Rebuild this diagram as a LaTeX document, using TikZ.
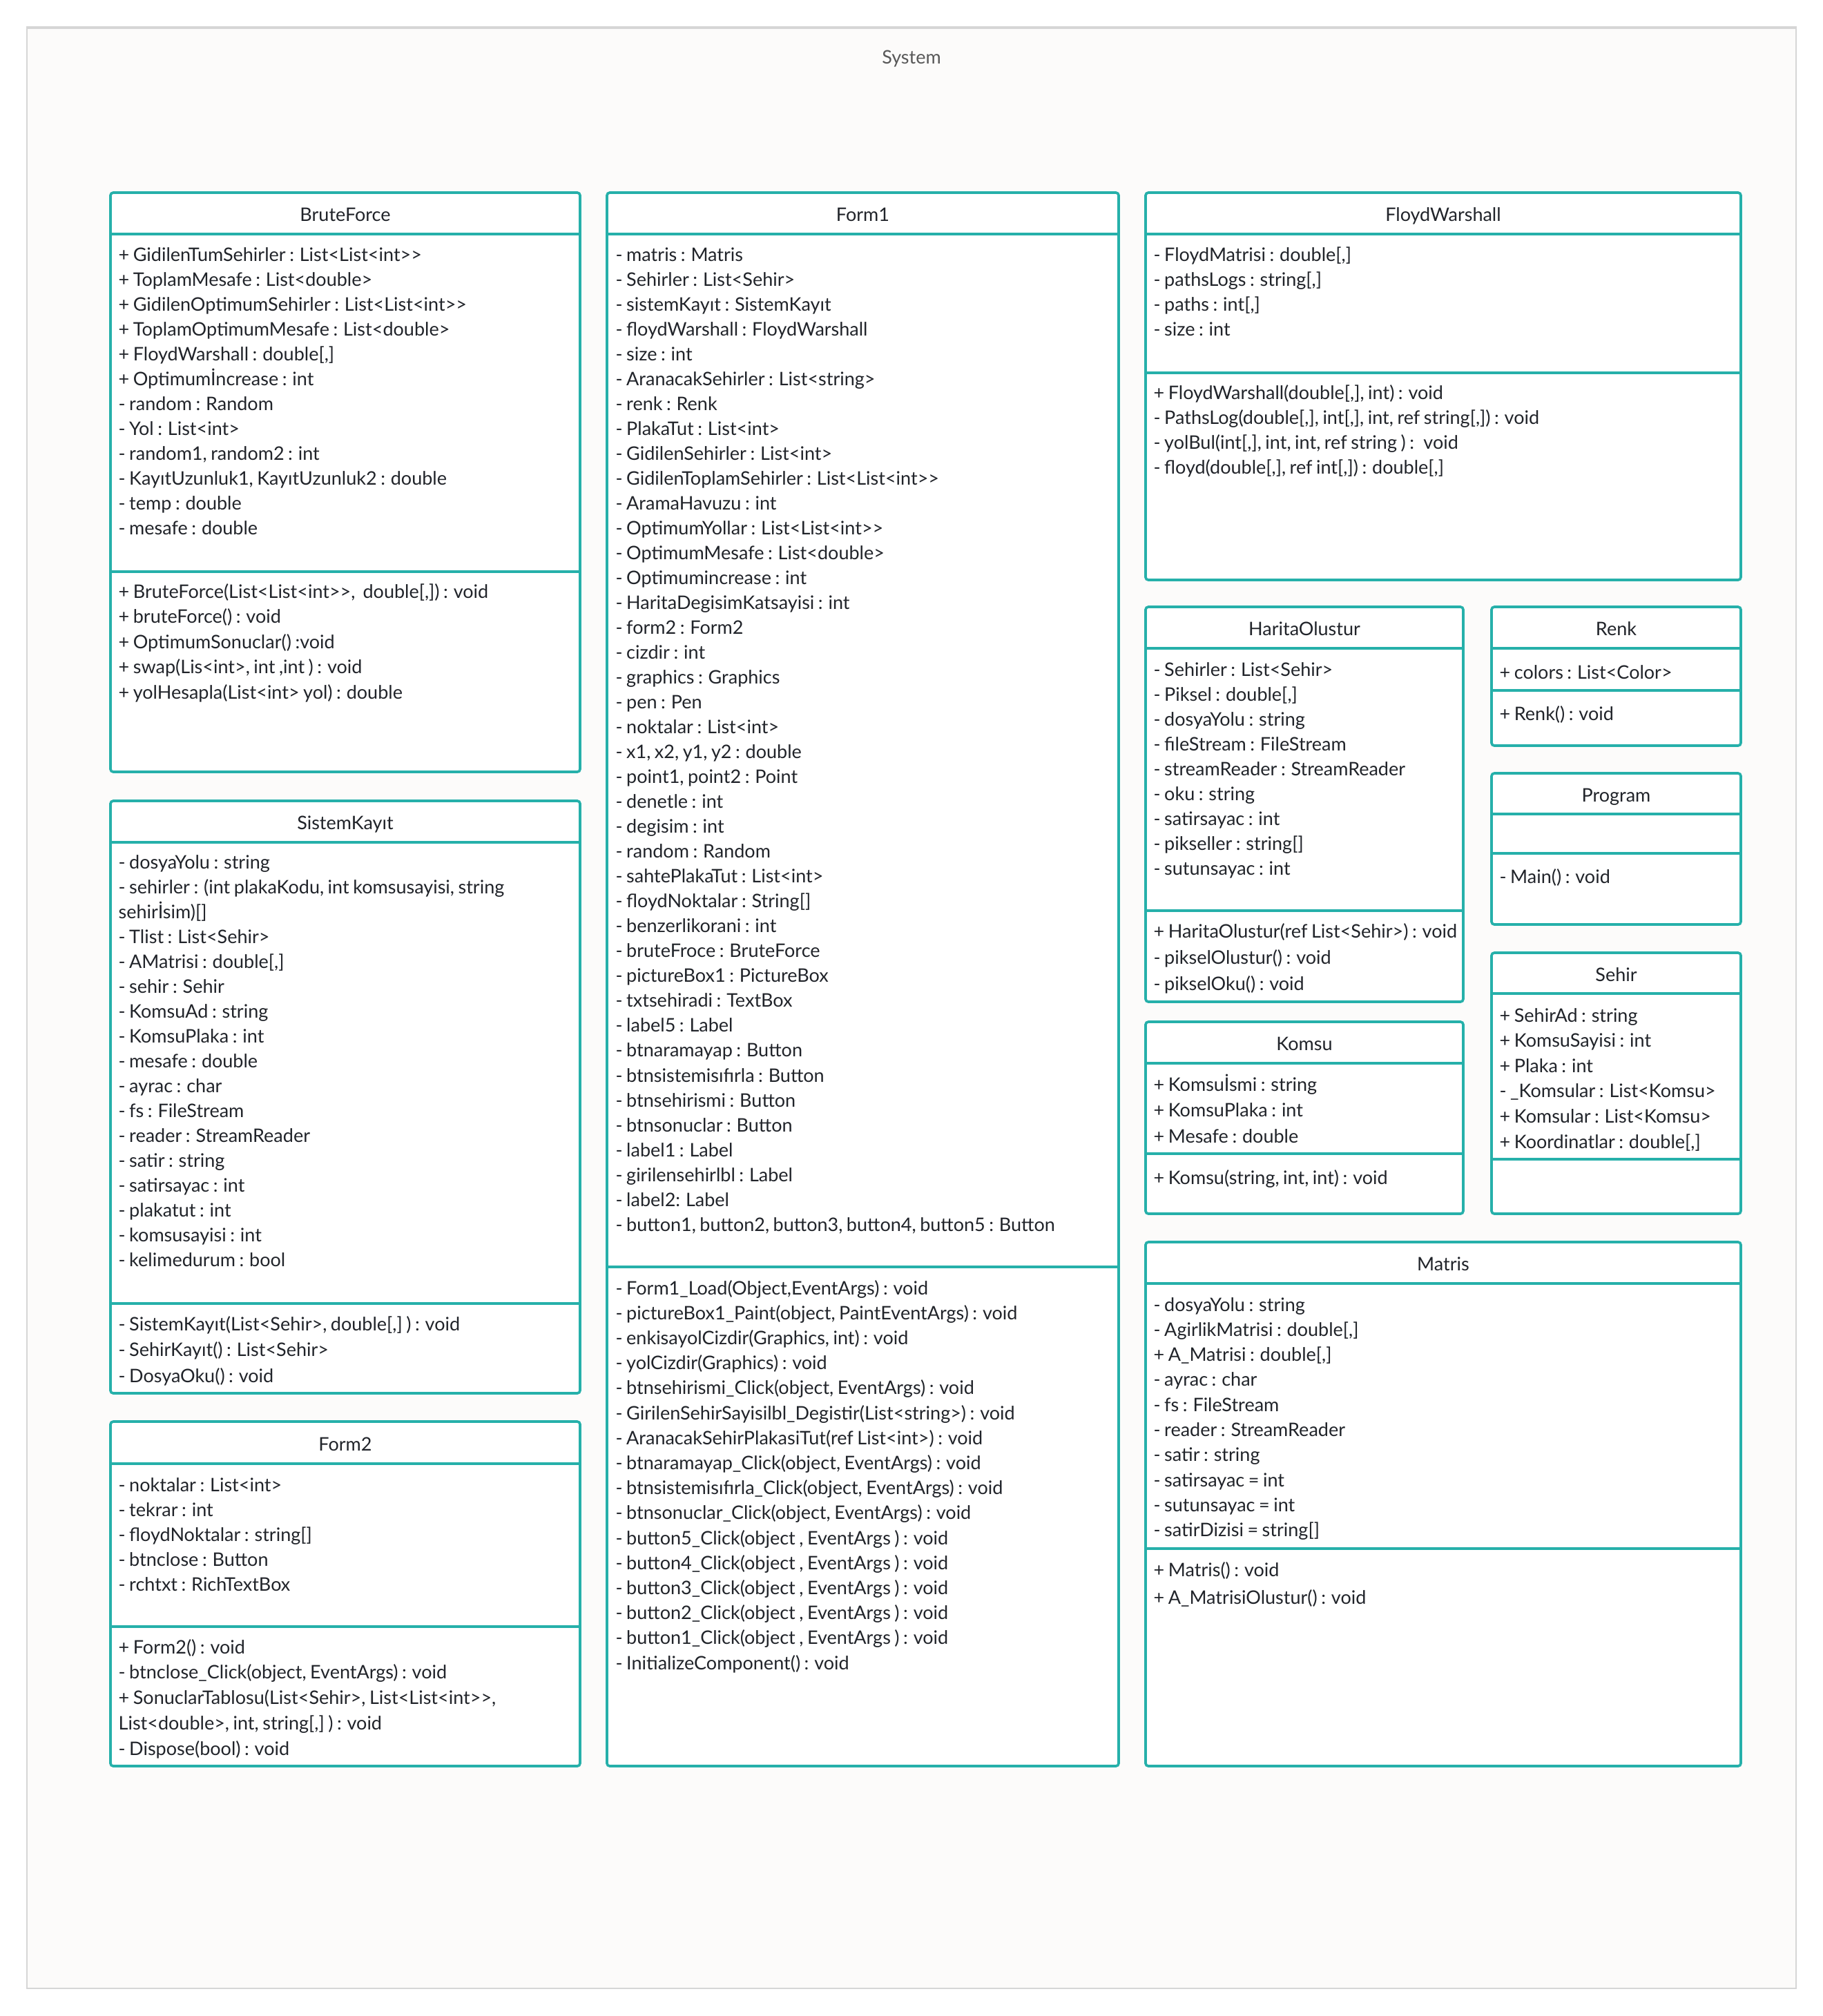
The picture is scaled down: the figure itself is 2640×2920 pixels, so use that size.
\documentclass[tikz,border=0pt]{standalone}
\usepackage{fontspec}
\setmainfont{Lato}[WordSpace=0.8]
\definecolor{umlteal}{RGB}{38,176,170}
\definecolor{framegray}{RGB}{214,214,214}
\definecolor{paper}{RGB}{252,251,250}
\definecolor{ink}{RGB}{33,36,42}

\begin{document}
\begin{tikzpicture}[
  x=0.3pt, y=-0.3pt,
  frame/.style={draw=framegray, line width=0.6pt, fill=paper},
  classbox/.style={draw=umlteal, line width=1.1pt, fill=white,
                   rounded corners=1.2pt},
  divider/.style={draw=umlteal, line width=1.1pt},
  classname/.style={font=\fontsize{8.1}{10}\selectfont, text=ink,
                    anchor=base, inner sep=0pt},
  row/.style={font=\fontsize{8.1}{10}\selectfont, text=ink,
              anchor=base west, inner sep=0pt}
]
  \fill[white] (0,0) rectangle (2640,2920);
  \useasboundingbox (0,0) rectangle (2640,2920);
  \draw[frame] (39,39) rectangle (2601,2880);
  \draw[framegray, line width=1.2pt] (39,40) -- (2601,40);
  \node[classname, text=black!65] (system) at (1320,92) {System};

  % BruteForce
  \draw[classbox] (160,279) rectangle (840,1118);
  \draw[divider] (160,339) -- (840,339) (160,828) -- (840,828);
  \node[classname] (bf) at (500,320) {BruteForce};
  \foreach \member [count=\i] in {{+ GidilenTumSehirler : List<List<int>{}>},
      {+ ToplamMesafe : List<double>}, {+ GidilenOptimumSehirler : List<List<int>{}>},
      {+ ToplamOptimumMesafe : List<double>}, {+ FloydWarshall : double[,]},
      {+ Optimumİncrease : int}, {- random : Random}, {- Yol : List<int>},
      {- random1, random2 : int}, {- KayıtUzunluk1, KayıtUzunluk2 : double},
      {- temp : double}, {- mesafe : double}}
    \node[row] (bf-a\i) at (171,{378+36*(\i-1)}) {\member};
  \foreach \member [count=\i] in {{+ BruteForce(List<List<int>{}>,~ double[,]) : void},
      {+ bruteForce() : void}, {+ OptimumSonuclar() :void},
      {+ swap(Lis<int>, int ,int ) : void}, {+ yolHesapla(List<int> yol) : double}}
    \node[row] (bf-m\i) at (171,{866+36.5*(\i-1)}) {\member};

  % SistemKayit
  \draw[classbox] (160,1160) rectangle (840,2018);
  \draw[divider] (160,1220) -- (840,1220) (160,1888) -- (840,1888);
  \node[classname] (sk) at (500,1201) {SistemKayıt};
  \foreach \member [count=\i] in {{- dosyaYolu : string},
      {- sehirler : (int plakaKodu, int komsusayisi, string}, {sehirİsim)[]},
      {- Tlist : List<Sehir>}, {- AMatrisi : double[,]}, {- sehir : Sehir},
      {- KomsuAd : string}, {- KomsuPlaka : int}, {- mesafe : double},
      {- ayrac : char}, {- fs : FileStream}, {- reader : StreamReader},
      {- satir : string}, {- satirsayac : int}, {- plakatut : int},
      {- komsusayisi : int}, {- kelimedurum : bool}}
    \node[row] (sk-a\i) at (171,{1258+36*(\i-1)}) {\member};
  \foreach \member [count=\i] in {{- SistemKayıt(List<Sehir>, double[,] ) : void},
      {- SehirKayıt() : List<Sehir>}, {- DosyaOku() : void}}
    \node[row] (sk-m\i) at (171,{1927+37.5*(\i-1)}) {\member};

  % Form2
  \draw[classbox] (160,2059) rectangle (840,2558);
  \draw[divider] (160,2120) -- (840,2120) (160,2356) -- (840,2356);
  \node[classname] (ftwo) at (500,2101) {Form2};
  \foreach \member [count=\i] in {{- noktalar : List<int>}, {- tekrar : int},
      {- floydNoktalar : string[]}, {- btnclose : Button}, {- rchtxt : RichTextBox}}
    \node[row] (ftwo-a\i) at (171,{2160+36*(\i-1)}) {\member};
  \foreach \member [count=\i] in {{+ Form2() : void},
      {- btnclose\_Click(object, EventArgs) : void},
      {+ SonuclarTablosu(List<Sehir>, List<List<int>{}>,},
      {List<double>, int, string[,] ) : void}, {- Dispose(bool) : void}}
    \node[row] (ftwo-m\i) at (171,{2395+36.8*(\i-1)}) {\member};

  % Form1
  \draw[classbox] (879,279) rectangle (1620,2558);
  \draw[divider] (879,339) -- (1620,339) (879,1835) -- (1620,1835);
  \node[classname] (fone) at (1249.5,320) {Form1};
  \foreach \member [count=\i] in {{- matris : Matris}, {- Sehirler : List<Sehir>},
      {- sistemKayıt : SistemKayıt}, {- floydWarshall : FloydWarshall},
      {- size : int}, {- AranacakSehirler : List<string>}, {- renk : Renk},
      {- PlakaTut : List<int>}, {- GidilenSehirler : List<int>},
      {- GidilenToplamSehirler : List<List<int>{}>}, {- AramaHavuzu : int},
      {- OptimumYollar : List<List<int>{}>}, {- OptimumMesafe : List<double>},
      {- Optimumincrease : int}, {- HaritaDegisimKatsayisi : int},
      {- form2 : Form2}, {- cizdir : int}, {- graphics : Graphics},
      {- pen : Pen}, {- noktalar : List<int>}, {- x1, x2, y1, y2 : double},
      {- point1, point2 : Point}, {- denetle : int}, {- degisim : int},
      {- random : Random}, {- sahtePlakaTut : List<int>},
      {- floydNoktalar : String[]}, {- benzerlikorani : int},
      {- bruteFroce : BruteForce}, {- pictureBox1 : PictureBox},
      {- txtsehiradi : TextBox}, {- label5 : Label}, {- btnaramayap : Button},
      {- btnsistemisıfırla : Button}, {- btnsehirismi : Button},
      {- btnsonuclar : Button}, {- label1 : Label}, {- girilensehirlbl : Label},
      {- label2: Label}, {- button1, button2, button3, button4, button5 : Button}}
    \node[row] (fone-a\i) at (891,{378+36.03*(\i-1)}) {\member};
  \foreach \member [count=\i] in {{- Form1\_Load(Object,EventArgs) : void},
      {- pictureBox1\_Paint(object, PaintEventArgs) : void},
      {- enkisayolCizdir(Graphics, int) : void}, {- yolCizdir(Graphics) : void},
      {- btnsehirismi\_Click(object, EventArgs) : void},
      {- GirilenSehirSayisilbl\_Degistir(List<string>) : void},
      {- AranacakSehirPlakasiTut(ref List<int>) : void},
      {- btnaramayap\_Click(object, EventArgs) : void},
      {- btnsistemisıfırla\_Click(object, EventArgs) : void},
      {- btnsonuclar\_Click(object, EventArgs) : void},
      {- button5\_Click(object , EventArgs ) : void},
      {- button4\_Click(object , EventArgs ) : void},
      {- button3\_Click(object , EventArgs ) : void},
      {- button2\_Click(object , EventArgs ) : void},
      {- button1\_Click(object , EventArgs ) : void},
      {- InitializeComponent() : void}}
    \node[row] (fone-m\i) at (891,{1875+36.2*(\i-1)}) {\member};

  % FloydWarshall
  \draw[classbox] (1659,279) rectangle (2521,840);
  \draw[divider] (1659,339) -- (2521,339) (1659,540) -- (2521,540);
  \node[classname] (fw) at (2090,320) {FloydWarshall};
  \foreach \member [count=\i] in {{- FloydMatrisi : double[,]},
      {- pathsLogs : string[,]}, {- paths : int[,]}, {- size : int}}
    \node[row] (fw-a\i) at (1670,{378+36*(\i-1)}) {\member};
  \foreach \member [count=\i] in {{+ FloydWarshall(double[,], int) : void},
      {- PathsLog(double[,], int[,], int, ref string[,]) : void},
      {- yolBul(int[,], int, int, ref string ) :~ void},
      {- floyd(double[,], ref int[,]) : double[,]}}
    \node[row] (fw-m\i) at (1670,{578+36*(\i-1)}) {\member};

  % HaritaOlustur
  \draw[classbox] (1659,879) rectangle (2119,1451);
  \draw[divider] (1659,939) -- (2119,939) (1659,1319) -- (2119,1319);
  \node[classname] (ho) at (1889,920) {HaritaOlustur};
  \foreach \member [count=\i] in {{- Sehirler : List<Sehir>}, {- Piksel : double[,]},
      {- dosyaYolu : string}, {- fileStream : FileStream},
      {- streamReader : StreamReader}, {- oku : string}, {- satirsayac : int},
      {- pikseller : string[]}, {- sutunsayac : int}}
    \node[row] (ho-a\i) at (1670,{979+36*(\i-1)}) {\member};
  \foreach \member [count=\i] in {{+ HaritaOlustur(ref List<Sehir>) : void},
      {- pikselOlustur() : void}, {- pikselOku() : void}}
    \node[row] (ho-m\i) at (1670,{1358+38*(\i-1)}) {\member};

  % Renk
  \draw[classbox] (2160,879) rectangle (2521,1080);
  \draw[divider] (2160,939) -- (2521,939) (2160,1000) -- (2521,1000);
  \node[classname] (rk) at (2340.5,920) {Renk};
  \node[row] (rk-a1) at (2171,983) {+ colors : List<Color>};
  \node[row] (rk-m1) at (2171,1043) {+ Renk() : void};

  % Program
  \draw[classbox] (2160,1120) rectangle (2521,1339);
  \draw[divider] (2160,1179) -- (2521,1179) (2160,1236) -- (2521,1236);
  \node[classname] (pg) at (2340.5,1161) {Program};
  \node[row] (pg-m1) at (2171,1279) {- Main() : void};

  % Sehir
  \draw[classbox] (2160,1380) rectangle (2521,1758);
  \draw[divider] (2160,1439) -- (2521,1439) (2160,1679) -- (2521,1679);
  \node[classname] (sh) at (2340.5,1421) {Sehir};
  \foreach \member [count=\i] in {{+ SehirAd : string}, {+ KomsuSayisi : int},
      {+ Plaka : int}, {- \_Komsular : List<Komsu>}, {+ Komsular : List<Komsu>},
      {+ Koordinatlar : double[,]}}
    \node[row] (sh-a\i) at (2171,{1480+36.6*(\i-1)}) {\member};

  % Komsu
  \draw[classbox] (1659,1480) rectangle (2119,1758);
  \draw[divider] (1659,1540) -- (2119,1540) (1659,1671) -- (2119,1671);
  \node[classname] (km) at (1889,1521) {Komsu};
  \foreach \member [count=\i] in {{+ Komsuİsmi : string}, {+ KomsuPlaka : int},
      {+ Mesafe : double}}
    \node[row] (km-a\i) at (1670,{1580+37.5*(\i-1)}) {\member};
  \node[row] (km-m1) at (1670,1715) {+ Komsu(string, int, int) : void};

  % Matris
  \draw[classbox] (1659,1799) rectangle (2521,2558);
  \draw[divider] (1659,1859) -- (2521,1859) (1659,2243) -- (2521,2243);
  \node[classname] (mt) at (2090,1840) {Matris};
  \foreach \member [count=\i] in {{- dosyaYolu : string}, {- AgirlikMatrisi : double[,]},
      {+ A\_Matrisi : double[,]}, {- ayrac : char}, {- fs : FileStream},
      {- reader : StreamReader}, {- satir : string}, {- satirsayac = int},
      {- sutunsayac = int}, {- satirDizisi = string[]}}
    \node[row] (mt-a\i) at (1670,{1899+36.3*(\i-1)}) {\member};
  \foreach \member [count=\i] in {{+ Matris() : void}, {+ A\_MatrisiOlustur() : void}}
    \node[row] (mt-m\i) at (1670,{2283+40*(\i-1)}) {\member};
\end{tikzpicture}
\end{document}
